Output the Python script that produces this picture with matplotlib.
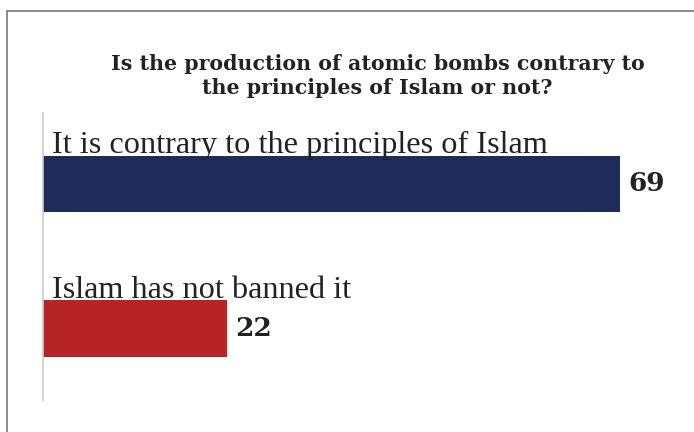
import matplotlib
matplotlib.use("Agg")
import matplotlib.pyplot as plt
from matplotlib.patches import Rectangle

categories = ["It is contrary to the principles of Islam", "Islam has not banned it"]
values = [69, 22]
colors = ["#1f2b5b", "#b72426"]
title_lines = ["Is the production of atomic bombs contrary to",
               "the principles of Islam or not?"]

W, H = 694, 432
fig = plt.figure(figsize=(W / 100, H / 100), dpi=100)
fig.patch.set_facecolor("white")

# outer frame
fig.add_artist(Rectangle((7 / W, -0.1), 1.2, 1 - 11 / H + 0.1, transform=fig.transFigure,
                         fill=False, edgecolor="#777777", linewidth=1.2))

ax_left, ax_right = 43 / W, 680 / W
ax_top, ax_bot = 1 - 113 / H, 1 - 400 / H
ax = fig.add_axes([ax_left, ax_bot, ax_right - ax_left, ax_top - ax_bot])
xmax = 637 / (577 / 69)
ax.set_xlim(0, xmax)
ax.set_ylim(-0.495, 1.49)

ypos = [1, 0]
ax.barh(ypos, values, height=0.39, color=colors, edgecolor="none")
for y, v, c in zip(ypos, values, categories):
    ax.text(1.1, y + 0.211, c, fontsize=23.2, family="Liberation Serif", color="#222222",
            va="baseline", ha="left")
    ax.text(v + 0.95, y, str(v), fontsize=19, family="DejaVu Serif", fontweight="bold",
            color="#222222", va="center", ha="left")

for s in ["top", "right", "bottom"]:
    ax.spines[s].set_visible(False)
ax.spines["left"].set_color("#cccccc")
ax.spines["left"].set_linewidth(1.2)
ax.set_xticks([])
ax.set_yticks([])

for i, line in enumerate(title_lines):
    fig.text(377.5 / W, 1 - (69.5 + 24 * i) / H, line, ha="center", va="baseline",
             fontsize=14.8, family="DejaVu Serif", fontweight="bold", color="#222222")

fig.savefig("out.png", dpi=100, facecolor="white")
